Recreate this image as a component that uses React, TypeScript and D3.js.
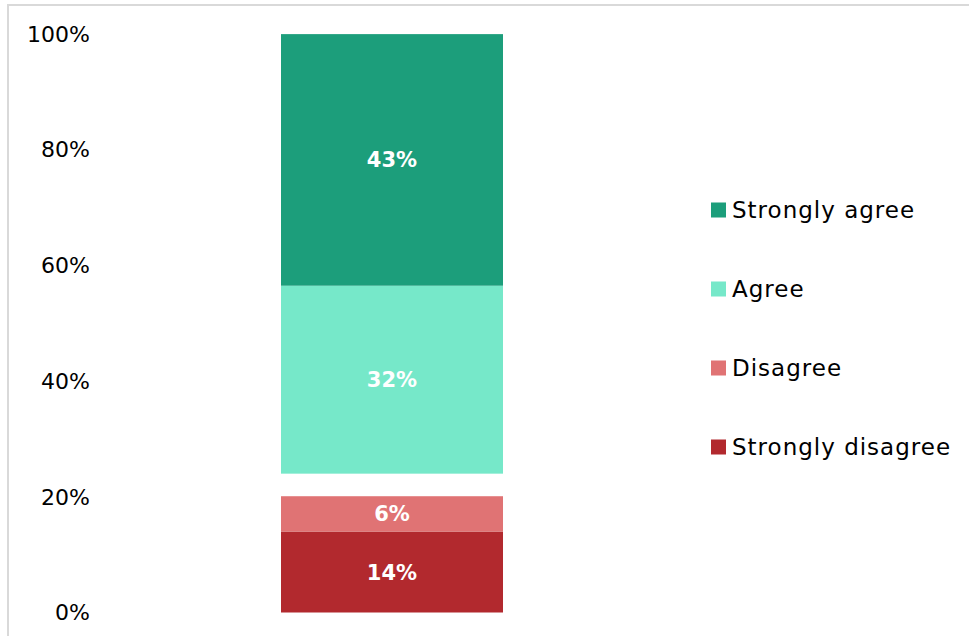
import React from 'react';
import * as d3 from 'd3';

const W = 969,
      H = 636;

// stack order bottom -> top; "Neutral" is in the data but not drawn
const keys = ['Strongly disagree', 'Disagree', 'Neutral', 'Agree', 'Strongly agree'];
const values = [14.0, 6.1, 3.9, 32.49, 43.49];
const colors = ['#b2292e', '#e07374', 'none', '#76e8c9', '#1c9e7b'];
const legendKeys = ['Strongly agree', 'Agree', 'Disagree', 'Strongly disagree'];
const yTicks = [0, 20, 40, 60, 80, 100];

const font = '"DejaVu Sans", sans-serif';

const y = d3.scaleLinear().domain([0, 100]).range([612.5, 34]);
const x = d3.scaleBand().domain(['all']).range([281, 503]).padding(0);

const row: any = { cat: 'all' };
keys.forEach((k, i) => { row[k] = values[i]; });
const series = d3.stack().keys(keys)([row]);

const legendY = d3.scalePoint().domain(legendKeys).range([210, 447]);
const fmt = (v: number) => Math.round(v) + '%';

export default function App() {
  return (
    <svg width={W} height={H} style={{ position: 'fixed', left: 0, top: 0, background: '#fff' }}>
      <rect x={8} y={5} width={W + 10} height={H + 10} fill="none" stroke="#d9d9d9" strokeWidth={2} />

      {yTicks.map(t =>
        <text key={t} x={90} y={y(t)} dy="0.35em" textAnchor="end"
              fontFamily={font} fontSize={22} fill="#000">{t + '%'}</text>
      )}

      {series.map((s, i) => {
        if (colors[i] === 'none') return null;
        const d = s[0];
        const y0 = y(d[0]), y1 = y(d[1]);
        return (
          <g key={s.key}>
            <rect x={x('all')} width={x.bandwidth()} y={y1} height={y0 - y1} fill={colors[i]} />
            <text x={x('all')! + x.bandwidth() / 2} y={(y0 + y1) / 2} dy="0.36em"
                  textAnchor="middle" fontFamily={font} fontWeight="bold" fontSize={21}
                  fill="#fff">{fmt(values[i])}</text>
          </g>
        );
      })}

      {legendKeys.map(k => {
        const cy = legendY(k)!;
        return (
          <g key={k}>
            <rect x={711} y={cy - 7.5} width={15} height={15} fill={colors[keys.indexOf(k)]} />
            <text x={732} y={cy} dy="0.36em" fontFamily={font} fontSize={23} letterSpacing={1}
                  fill="#000">{k}</text>
          </g>
        );
      })}
    </svg>
  );
}
